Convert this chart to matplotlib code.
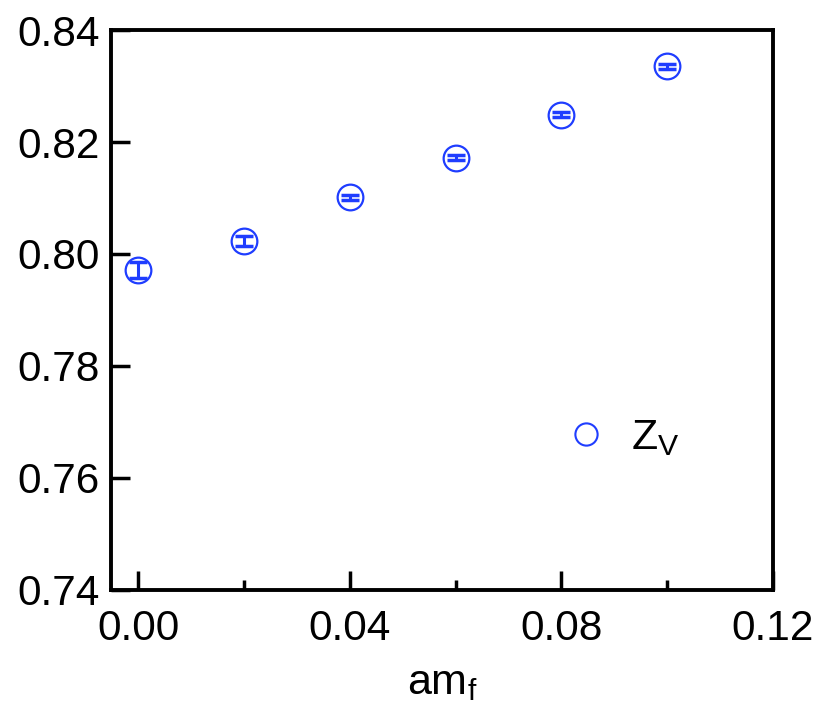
import numpy as np
import matplotlib.pyplot as plt
from matplotlib.lines import Line2D

plt.rcParams['font.family'] = ['Liberation Sans', 'DejaVu Sans']
plt.rcParams['mathtext.fontset'] = 'custom'
plt.rcParams['mathtext.rm'] = 'Liberation Sans'
plt.rcParams['mathtext.it'] = 'Liberation Sans'

am_f = [0.00, 0.02, 0.04, 0.06, 0.08, 0.10]
z_v = [0.7972, 0.8024, 0.8101, 0.8172, 0.8249, 0.8335]
z_v_err = [0.0014, 0.0009, 0.0004, 0.0004, 0.0005, 0.0005]

blue = '#1f3dff'

fig = plt.figure(figsize=(8.2, 7.18), dpi=100)
ax = fig.add_axes([0.1354, 0.1783, 0.8073, 0.7799])

ax.errorbar(am_f, z_v, yerr=z_v_err, fmt='none', ecolor=blue,
            elinewidth=2.2, capsize=6.5, capthick=2.5)
ax.plot(am_f, z_v, 'o', mfc='none', mec=blue, ms=18.5, mew=1.6)

ax.set_xlim(-0.0051, 0.12)
ax.set_ylim(0.74, 0.84)
ax.set_xticks([0.00, 0.04, 0.08, 0.12])
ax.set_xticks([0.02, 0.06, 0.10], minor=True)
ax.set_yticks([0.74, 0.76, 0.78, 0.80, 0.82, 0.84])
ax.set_xticklabels(['0.00', '0.04', '0.08', '0.12'])
ax.set_yticklabels(['0.74', '0.76', '0.78', '0.80', '0.82', '0.84'])
ax.tick_params(axis='x', which='major', pad=14)
ax.tick_params(axis='y', which='major', pad=8)
ax.tick_params(which='major', direction='in', length=14, width=2.5,
               labelsize=30.5)
ax.tick_params(which='minor', direction='in', length=7, width=2.5)
for s in ax.spines.values():
    s.set_linewidth(2.8)

ax.set_xlabel('am$_\\mathrm{f}$', fontsize=31, labelpad=10)

h = Line2D([], [], ls='none', marker='o', mfc='none', mec=blue, ms=16, mew=1.5)
ax.legend([h], ['Z$_\\mathrm{V}$'], loc='center left', frameon=False,
          bbox_to_anchor=(0.626, 0.271), fontsize=31, handlelength=1,
          handletextpad=0.55)

fig.savefig('out.png', dpi=100)
